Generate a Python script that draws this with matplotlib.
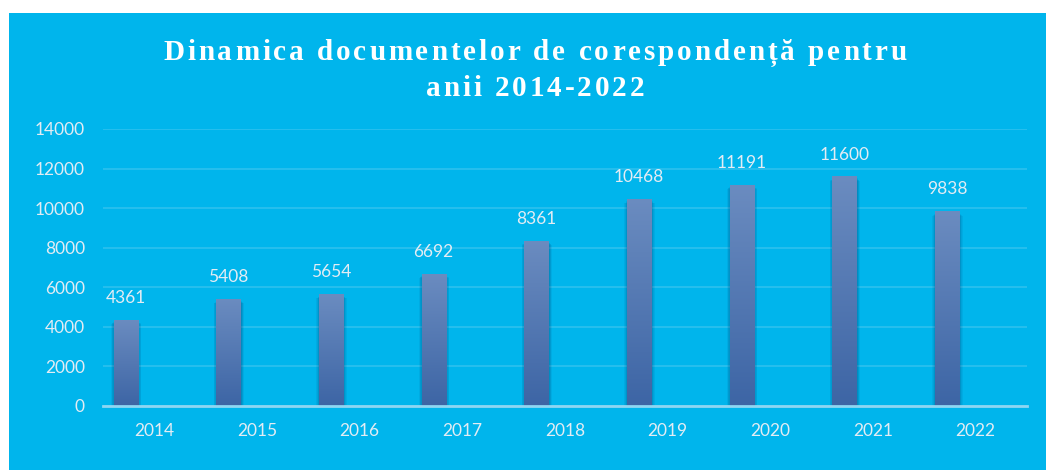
import matplotlib
matplotlib.use("Agg")
import matplotlib.pyplot as plt
import numpy as np
from matplotlib.colors import LinearSegmentedColormap
from matplotlib.textpath import TextToPath
from matplotlib.font_manager import FontProperties

years = ["2014", "2015", "2016", "2017", "2018", "2019", "2020", "2021", "2022"]
values = [4361, 5408, 5654, 6692, 8361, 10468, 11191, 11600, 9838]
yticks = [0, 2000, 4000, 6000, 8000, 10000, 12000, 14000]
title_lines = ["Dinamica documentelor de corespondență pentru", "anii 2014-2022"]

BG = "#00B5EC"
TXT = "#E3ECF4"
W, H = 1046, 470
fig = plt.figure(figsize=(W / 100, H / 100), dpi=100)
fig.patch.set_facecolor("white")
bgax = fig.add_axes([9 / W, 0, 1 - 9 / W, 1 - 13 / H], zorder=-5)
bgax.set_facecolor(BG)
bgax.set_xticks([]); bgax.set_yticks([])
for s in bgax.spines.values():
    s.set_visible(False)

ax = fig.add_axes([103 / W, (H - 406) / H, (1027 - 103) / W, (406 - 129) / H], zorder=1)
ax.set_facecolor("none")
x = np.arange(len(years))

bw0 = 0.235
bars = ax.bar(x - 0.28, values, width=bw0, color="#5078B4", zorder=3)
grad = np.linspace(0, 1, 256).reshape(-1, 1)
cmap = LinearSegmentedColormap.from_list("g", ["#3D65A5", "#6B8CC0"])
for b in bars:
    bx, by, bw, bh = b.get_x(), b.get_y(), b.get_width(), b.get_height()
    # soft shadow
    for k in range(1, 6):
        ax.bar(bx + bw / 2 + 0.006, bh - 30 * k, width=bw + 0.012 * k, bottom=-70 + 0 * k,
               color="#0B4F80", alpha=0.09, zorder=2, linewidth=0)
    im = ax.imshow(grad, extent=[bx, bx + bw, by, by + bh], origin="lower", cmap=cmap,
                   aspect="auto", zorder=3.5)
    im.set_clip_path(b)
ax.set_xlim(-0.5, len(years) - 0.5)
ax.set_ylim(0, 14000)

for xi, v in zip(x, values):
    ax.annotate(str(v), (xi - 0.28, v), xytext=(0, 10), textcoords="offset points",
                ha="center", va="bottom", color=TXT, fontsize=12.5, family="Lato")

ax.set_yticks(yticks)
ax.set_yticklabels([str(t) for t in yticks])
ax.set_xticks(x)
ax.set_xticklabels(years)
ax.tick_params(axis="both", length=0, colors=TXT, labelsize=12.5)
ax.tick_params(axis="y", pad=13)
ax.tick_params(axis="x", pad=12)
for lab in ax.get_xticklabels() + ax.get_yticklabels():
    lab.set_family("Lato")
ax.grid(axis="y", color="#2DC0EE", linewidth=1.2, zorder=1)
for s in ["top", "right", "left"]:
    ax.spines[s].set_visible(False)
ax.spines["bottom"].set_color("#8ED6F2")
ax.spines["bottom"].set_linewidth(2)
ax.spines["bottom"].set_zorder(4)

# title with letter spacing
fs = 21
prop = FontProperties(family="Liberation Serif", weight="bold", size=fs)
t2p = TextToPath()
spacing_px = 2.9
centers_y = [50, 86]
cx = 535
for line, cy in zip(title_lines, centers_y):
    widths = []
    for ch in line:
        w, h, d = t2p.get_text_width_height_descent(ch, prop, ismath=False)
        widths.append(w * 100 / 72)
    total = sum(widths) + spacing_px * (len(line) - 1)
    xp = cx - total / 2
    for ch, w in zip(line, widths):
        if ch != " ":
            fig.text(xp / W, 1 - cy / H, ch, ha="left", va="center_baseline", color="white",
                     fontproperties=prop)
        xp += w + spacing_px

fig.savefig("out.png", dpi=100, facecolor=fig.get_facecolor())
